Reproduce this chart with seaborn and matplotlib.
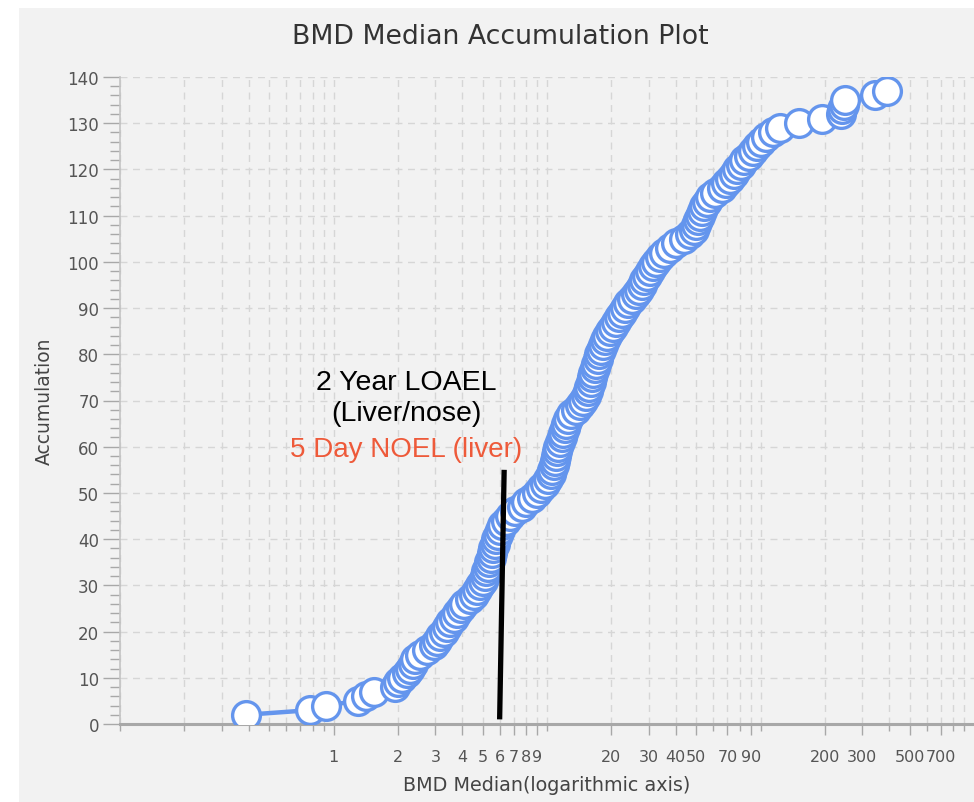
import matplotlib
matplotlib.use("Agg")
import matplotlib.pyplot as plt
from matplotlib.patches import Rectangle
from matplotlib.ticker import FixedLocator, FixedFormatter, NullFormatter
import seaborn as sns
import pandas as pd

# BMD median values (sorted) and their running accumulation counts
bmd_median = [
    0.39, 0.78, 0.92, 1.30, 1.42, 1.55, 1.95, 2.00, 2.10, 2.20,
    2.28, 2.35, 2.42, 2.55, 2.75, 2.95, 3.05, 3.15, 3.30, 3.40,
    3.50, 3.65, 3.80, 3.95, 4.10, 4.35, 4.55, 4.70, 4.85, 5.00,
    5.10, 5.20, 5.30, 5.35, 5.45, 5.55, 5.60, 5.70, 5.80, 5.90,
    6.00, 6.15, 6.40, 6.70, 7.10, 7.60, 8.00, 8.50, 9.00, 9.40,
    9.80, 10.1, 10.4, 10.6, 10.8, 10.9, 11.0, 11.1, 11.3, 11.5,
    11.7, 11.9, 12.1, 12.3, 12.6, 13.0, 13.6, 14.2, 14.8, 15.2,
    15.5, 15.8, 16.1, 16.3, 16.5, 16.8, 17.0, 17.3, 17.6, 17.9,
    18.3, 18.7, 19.2, 19.7, 20.3, 21.0, 21.8, 22.5, 23.3, 24.0,
    25.0, 26.0, 27.0, 27.8, 28.6, 29.4, 30.3, 31.2, 32.5, 34.0,
    35.5, 37.5, 40.0, 44.0, 47.0, 49.0, 50.0, 51.0, 52.0, 53.0,
    54.5, 56.0, 58.0, 61.0, 66.0, 69.0, 72.0, 75.0, 78.0, 81.0,
    84.0, 88.0, 92.0, 96.0, 100.0, 106.0, 114.0, 123.0, 152.0, 195.0,
    238.0, 242.0, 246.0, 250.0, 345.0, 390.0,
]
accumulation = [
    2, 3, 4, 5, 6, 7, 8, 9, 10, 11,
    12, 13, 14, 15, 16, 17, 18, 19, 20, 21,
    22, 23, 24, 25, 26, 27, 28, 29, 30, 31,
    32, 33, 34, 35, 36, 37, 38, 39, 40, 41,
    42, 43, 44, 45, 46, 47, 48, 49, 50, 51,
    52, 53, 54, 55, 56, 57, 58, 59, 60, 61,
    62, 63, 64, 65, 66, 67, 68, 69, 70, 71,
    72, 73, 74, 75, 76, 77, 78, 79, 80, 81,
    82, 83, 84, 85, 86, 87, 88, 89, 90, 91,
    92, 93, 94, 95, 96, 97, 98, 99, 100, 101,
    102, 103, 104, 105, 106, 107, 108, 109, 110, 111,
    112, 113, 114, 115, 116, 117, 118, 119, 120, 121,
    122, 123, 124, 125, 126, 127, 128, 129, 130, 131,
    132, 133, 134, 135, 136, 137,
]

# Labelled x ticks and y ticks
x_tick_labels = ["1", "2", "3", "4", "5", "6", "7", "8", "9",
                 "20", "30", "40", "50", "70", "90",
                 "200", "300", "500", "700"]
x_tick_values = [1, 2, 3, 4, 5, 6, 7, 8, 9,
                 20, 30, 40, 50, 70, 90,
                 200, 300, 500, 700]
y_tick_values = list(range(0, 141, 10))

# Reference point marker (2 year LOAEL / 5 day NOEL)
ref_line_x = [6.0, 6.3]
ref_line_y = [1.0, 55.0]

BG = "#f2f2f2"
BLUE = "#6495ed"
AXIS_GRAY = "#a8a8a8"
TEXT_GRAY = "#555555"

sns.set_theme(style="white")
plt.rcParams["font.family"] = ["DejaVu Sans"]

fig = plt.figure(figsize=(9.74, 8.03), dpi=100)
fig.patch.set_facecolor("white")
fig.add_artist(Rectangle((19 / 974, 0), 1 - 19 / 974, 1 - 9 / 803,
                         transform=fig.transFigure, facecolor=BG,
                         edgecolor="none", zorder=0))

ax = fig.add_axes([120 / 974, 1 - 725 / 803, 1 - 120 / 974, (725 - 78) / 803])
ax.set_facecolor(BG)

df = pd.DataFrame({"BMD Median": bmd_median, "Accumulation": accumulation})
sns.lineplot(data=df, x="BMD Median", y="Accumulation", ax=ax,
             estimator=None, sort=True, color=BLUE, linewidth=3.2,
             marker="o", markersize=20, markerfacecolor="white",
             markeredgecolor=BLUE, markeredgewidth=2.4, zorder=3)

ax.set_xscale("log")
ax.set_xlim(0.1, 1000)
ax.set_ylim(0, 140)

# x ticks: labelled ones as major, remaining 1-9 multiples as minor
all_x = [m * 10 ** e for e in (-1, 0, 1, 2) for m in range(1, 10)]
labelled = [float(t) for t in x_tick_values]
minor_x = [v for v in all_x if round(v, 6) not in labelled]
ax.xaxis.set_major_locator(FixedLocator(x_tick_values))
ax.xaxis.set_major_formatter(FixedFormatter(x_tick_labels))
ax.xaxis.set_minor_locator(FixedLocator(minor_x))
ax.xaxis.set_minor_formatter(NullFormatter())

ax.yaxis.set_major_locator(FixedLocator(y_tick_values))
ax.yaxis.set_minor_locator(FixedLocator(list(range(0, 141, 2))))

ax.tick_params(axis="x", which="major", direction="out", length=8, width=1,
               color=AXIS_GRAY, labelsize=11.5, labelcolor=TEXT_GRAY, pad=10,
               bottom=True)
ax.tick_params(axis="x", which="minor", direction="out", length=5, width=1,
               color=AXIS_GRAY, bottom=True)
ax.tick_params(axis="y", which="major", direction="out", length=12, width=1,
               color=AXIS_GRAY, labelsize=12, labelcolor=TEXT_GRAY, pad=3,
               left=True)
ax.tick_params(axis="y", which="minor", direction="out", length=7, width=1,
               color=AXIS_GRAY, left=True)

ax.grid(True, axis="x", which="both", linestyle=(0, (5, 4)), color="#d6d6d6",
        linewidth=1)
ax.grid(True, axis="y", which="major", linestyle=(0, (5, 4)), color="#d6d6d6",
        linewidth=1)
ax.set_axisbelow(True)

for side in ("top", "right"):
    ax.spines[side].set_visible(False)
ax.spines["left"].set_color("#c4c4c4")
ax.spines["left"].set_linewidth(1.2)
ax.spines["bottom"].set_color(AXIS_GRAY)
ax.spines["bottom"].set_linewidth(2.2)

ax.set_xlabel("BMD Median(logarithmic axis)", fontsize=13.8, color="#444444",
              labelpad=8)
ax.set_ylabel("Accumulation", fontsize=13.5, color="#444444", labelpad=10)

fig.text(500 / 974, 1 - 37 / 803, "BMD Median Accumulation Plot",
         ha="center", va="center", fontsize=19.3, color="#333333")

# Reference annotation
ax.plot(ref_line_x, ref_line_y, color="black", linewidth=3.8, zorder=5,
        solid_capstyle="butt")
ax.text(2.2, 74.1, "2 Year LOAEL", ha="center", va="center",
        fontsize=20.5, color="black", family=["Liberation Sans"], zorder=6)
ax.text(2.2, 67.4, "(Liver/nose)", ha="center", va="center",
        fontsize=20.5, color="black", family=["Liberation Sans"], zorder=6)
ax.text(2.2, 59.6, "5 Day NOEL (liver)", ha="center", va="center",
        fontsize=20, color="#ee5a3a", family=["Liberation Sans"], zorder=6)

fig.savefig("out.png", dpi=100, facecolor=fig.get_facecolor())
